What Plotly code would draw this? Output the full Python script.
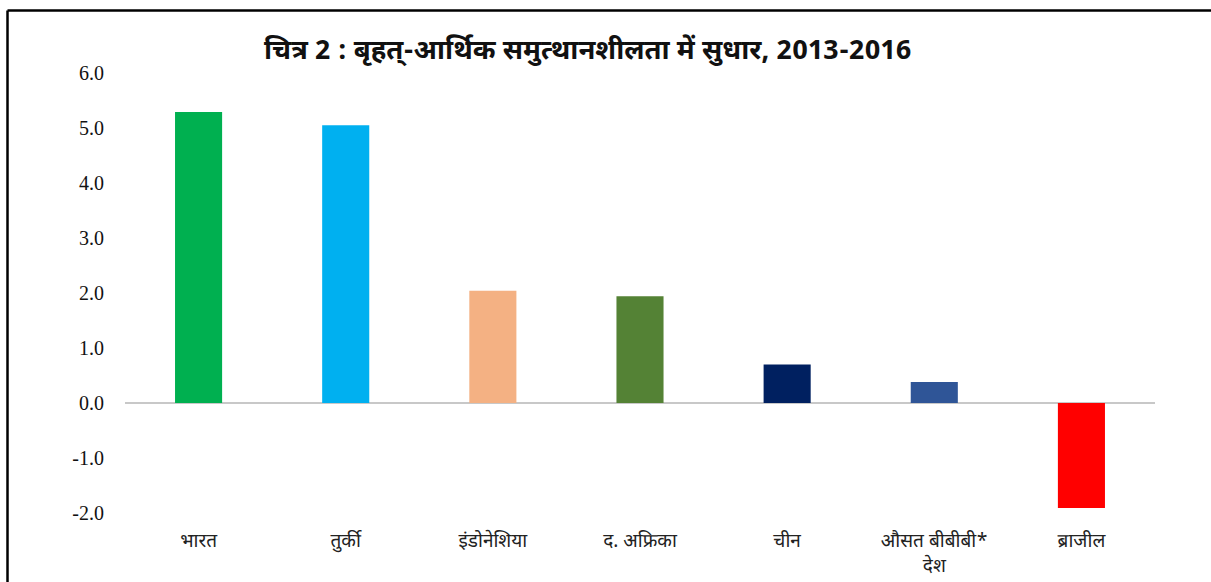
import plotly.graph_objects as go

categories = ["भारत", "तुर्की", "इंडोनेशिया", "द. अफ्रिका", "चीन", "औसत बीबीबी*<br>देश", "ब्राजील"]
values = [5.29, 5.05, 2.04, 1.94, 0.70, 0.38, -1.91]
colors = ["#00B050", "#00B0F0", "#F4B183", "#548235", "#002060", "#2F5597", "#FF0000"]
tick_vals = [6, 5, 4, 3, 2, 1, 0, -1, -2]
tick_text = ["6.0", "5.0", "4.0", "3.0", "2.0", "1.0", "0.0", "-1.0", "-2.0"]
title_text = "चित्र 2 : बृहत्-आर्थिक समुत्थानशीलता में सुधार, 2013-2016"

W, H = 1211, 582
L, R, T, B = 125, 56, 73, 69
pw, ph = W - L - R, H - T - B

fig = go.Figure(go.Bar(x=categories, y=values, marker=dict(color=colors, line=dict(width=0)), width=0.32))

fig.update_layout(
    width=W, height=H,
    margin=dict(l=L, r=R, t=T, b=B, pad=0, autoexpand=False),
    paper_bgcolor="white", plot_bgcolor="white",
    showlegend=False,
    bargap=0.68,
)
fig.update_xaxes(showgrid=False, showline=False, ticks="", zeroline=False, ticklabelstandoff=14, automargin=False,
                 tickfont=dict(family="Noto Sans Devanagari, Lohit Devanagari, Mangal, sans-serif", size=19, color="#222"))
fig.update_yaxes(range=[-2, 6], tickvals=tick_vals, ticktext=tick_text, showgrid=False, showline=False, automargin=False,
                 zeroline=True, zerolinecolor="#C8C8C8", zerolinewidth=2, ticks="", ticklabelstandoff=20,
                 tickfont=dict(family="Liberation Serif, Times New Roman, serif", size=20, color="#111"))

fig.add_annotation(text="<b>" + title_text + "</b>", xref="paper", yref="paper",
                   x=(587 - L) / pw, y=(H - B - 52) / ph, xanchor="center", yanchor="middle",
                   showarrow=False, font=dict(family="Noto Sans Devanagari, Lohit Devanagari, sans-serif", size=27.5, color="#111"))

# outer frame (top and left edges)
fig.add_shape(type="line", xref="paper", yref="paper", x0=(7.5 - L) / pw, x1=(7.5 - L) / pw,
              y0=(H - B - 10.5) / ph, y1=-0.3, line=dict(color="black", width=2.5))
fig.add_shape(type="line", xref="paper", yref="paper", x0=(7.5 - L) / pw, x1=1.2,
              y0=(H - B - 10.5) / ph, y1=(H - B - 10.5) / ph, line=dict(color="black", width=2.5))

fig.write_html("out.html")
